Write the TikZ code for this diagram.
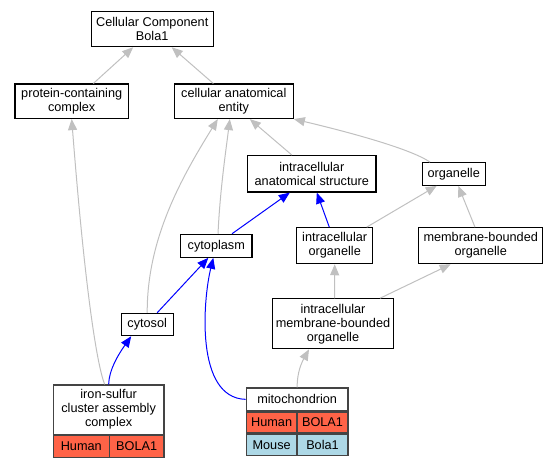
\documentclass[tikz,border=0pt]{standalone}
\usepackage{fontspec}
\setmainfont{Liberation Sans}
\usetikzlibrary{arrows.meta}
\definecolor{edgegray}{HTML}{C0C0C0}
\definecolor{edgeblue}{HTML}{0000FF}
\definecolor{human}{HTML}{FF6347}
\definecolor{mouse}{HTML}{ADD8E6}
\definecolor{tabline}{HTML}{444444}
\newcommand\lbl{\fontsize{12.7bp}{14bp}\selectfont}
\tikzset{
  box/.style={draw=black, line width=1.1bp, fill=white, inner sep=0pt, align=center, font=\lbl},
  tabbox/.style={draw=tabline, line width=1.3bp, inner sep=0pt, align=center, font=\lbl},
  tip/.style={-{Triangle[length=11bp,width=9bp]}},
  gedge/.style={tip, draw=edgegray, line width=1bp},
  bedge/.style={tip, draw=edgeblue, line width=1bp},
}
\begin{document}
\begin{tikzpicture}[x=1bp,y=-1bp]
\useasboundingbox (0,0) rectangle (557,467);
% nodes
\node[box, minimum width=122.3bp, minimum height=35bp] (top) at (152.2,29.2) {Cellular Component\\Bola1};
\node[box, minimum width=113.3bp, minimum height=34.5bp] (pcc) at (71.7,101.3) {protein-containing\\complex};
\node[box, minimum width=119bp, minimum height=34.5bp] (cae) at (233.8,101.3) {cellular anatomical\\entity};
\node[box, minimum width=128.3bp, minimum height=36.5bp] (ias) at (311.8,173.8) {intracellular\\anatomical structure};
\node[box, minimum width=62.7bp, minimum height=22.6bp] (org) at (453.7,174) {organelle};
\node[box, minimum width=71.3bp, minimum height=23bp] (cyto) at (216.3,245.8) {cytoplasm};
\node[box, minimum width=76bp, minimum height=36bp] (io) at (334.7,245.7) {intracellular\\organelle};
\node[box, minimum width=124bp, minimum height=36bp] (mbo) at (480.7,245.7) {membrane-bounded\\organelle};
\node[box, minimum width=52.3bp, minimum height=22.4bp] (cytosol) at (147.2,324.5) {cytosol};
\node[box, minimum width=121bp, minimum height=50bp] (imbo) at (333,323.8) {intracellular\\membrane-bounded\\organelle};
% iron-sulfur table
\node[tabbox, fill=white, minimum width=110.7bp, minimum height=49.3bp] (iron) at (108.65,409.65) {iron-sulfur\\cluster assembly\\complex};
\node[tabbox, fill=human, minimum width=56bp, minimum height=21.7bp, anchor=north west] (ironh) at (iron.south west) {Human};
\node[tabbox, fill=human, minimum width=54.7bp, minimum height=21.7bp, anchor=north east] (ironb) at (iron.south east) {BOLA1};
% mitochondrion table
\node[tabbox, fill=white, minimum width=101.7bp, minimum height=22.7bp] (mito) at (297.15,399.35) {mitochondrion};
\node[tabbox, fill=human, minimum width=50.7bp, minimum height=21bp, anchor=north west] (mitoh) at (mito.south west) {Human};
\node[tabbox, fill=human, minimum width=51bp, minimum height=21bp, anchor=north east] (mitob) at (mito.south east) {BOLA1};
\node[tabbox, fill=mouse, minimum width=50.7bp, minimum height=21.3bp, anchor=north west] (mitom) at (mitoh.south west) {Mouse};
\node[tabbox, fill=mouse, minimum width=51bp, minimum height=21.3bp, anchor=north east] (mitomb) at (mitob.south east) {Bola1};
% edges
\draw[gedge] ([xshift=21.6bp]pcc.north) -- ([xshift=-19bp]top.south);
\draw[gedge] ([xshift=-20.5bp]cae.north) -- ([xshift=19.5bp]top.south);
\draw[gedge] (cytosol.north) .. controls (147,240) and (180,180) .. ([xshift=-16bp]cae.south);
\draw[gedge] ([xshift=1.7bp]cyto.north) .. controls (220,190) and (226,150) .. ([xshift=-4bp]cae.south);
\draw[gedge] ([xshift=-20bp]ias.north) -- ([xshift=16bp]cae.south);
\draw[gedge] ([xshift=-23.7bp]org.north) .. controls (410,148) and (340,130) .. (cae.south east);
\draw[bedge] ([xshift=15.7bp]cyto.north) -- ([xshift=-22bp]ias.south);
\draw[bedge] ([xshift=-5.4bp]io.north) -- ([xshift=5bp]ias.south);
\draw[gedge] ([xshift=32bp]io.north) -- ([xshift=-17bp]org.south);
\draw[gedge] ([xshift=-5.7bp]mbo.north) -- ([xshift=4.6bp]org.south);
\draw[gedge] ([xshift=1.5bp]imbo.north) -- ([xshift=0bp]io.south);
\draw[gedge] ([xshift=47bp]imbo.north) -- ([xshift=-30bp]mbo.south);
\draw[bedge] ([xshift=10bp]cytosol.north) -- ([xshift=-8bp]cyto.south);
\draw[bedge] (mito.west) .. controls (195,398) and (203,300) .. ([xshift=-3bp]cyto.south);
\draw[gedge] (mito.north) .. controls (297,372) and (302,362) .. ([xshift=-24bp]imbo.south);
\draw[bedge] (iron.north) .. controls (109,370) and (118,355) .. ([xshift=-16bp]cytosol.south);
\draw[gedge] ([xshift=-4bp]iron.north) .. controls (97,365) and (85,290) .. (pcc.south);
\end{tikzpicture}
\end{document}
